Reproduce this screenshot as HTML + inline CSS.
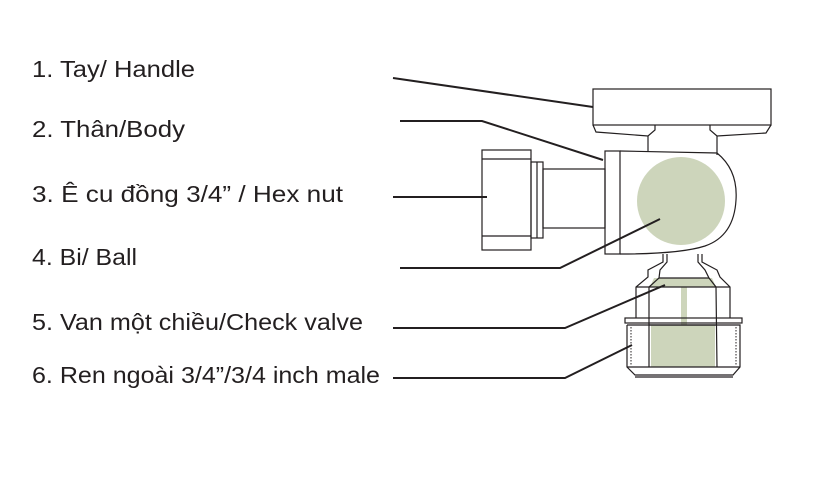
<!DOCTYPE html>
<html><head><meta charset="utf-8"><style>
html,body{margin:0;padding:0;background:#fff;}
svg{display:block;}
text{font-family:"Liberation Sans","Noto Sans CJK JP",sans-serif;font-size:23px;fill:#231f20;}
</style></head><body>
<svg width="839" height="503" viewBox="0 0 839 503" xmlns="http://www.w3.org/2000/svg">
<g>
<text x="32" y="77" textLength="163" lengthAdjust="spacingAndGlyphs">1. Tay/ Handle</text>
<text x="32" y="137" textLength="153" lengthAdjust="spacingAndGlyphs">2. Thân/Body</text>
<text x="32" y="202" textLength="311" lengthAdjust="spacingAndGlyphs">3. Ê cu đồng 3/4” / Hex nut</text>
<text x="32" y="265" textLength="105" lengthAdjust="spacingAndGlyphs">4. Bi/ Ball</text>
<text x="32" y="330" textLength="331" lengthAdjust="spacingAndGlyphs">5. Van một chiều/Check valve</text>
<text x="32" y="383" textLength="348" lengthAdjust="spacingAndGlyphs">6. Ren ngoài 3/4”/3/4 inch male</text>
</g>
<!-- green fills -->
<g fill="#cdd5bb">
<circle cx="681" cy="201" r="44"/>
<rect x="651" y="325" width="64" height="42"/>
<rect x="681" y="283" width="6" height="42"/>
<polygon points="654,278 712,278 716,287 650,287"/>
</g>
<g fill="none" stroke="#231f20" stroke-width="1.2">
<!-- handle -->
<rect x="593" y="89" width="178" height="36"/>
<polyline points="593,125 596,132 648,136 655,130 655,125"/>
<polyline points="771,125 766,133 717,136 710,130 710,125"/>
<line x1="648" y1="136" x2="648" y2="151"/>
<line x1="717" y1="136" x2="717" y2="155"/>
<!-- body -->
<rect x="605" y="151" width="15" height="103"/>
<path d="M620,151 L717,153 Q738,170 736,200 Q734,236 705,246 Q680,254 620,254"/>
<!-- pipe -->
<rect x="543" y="169" width="62" height="59"/>
<rect x="531" y="162" width="12" height="76"/>
<line x1="537" y1="162" x2="537" y2="238"/>
<rect x="482" y="150" width="49" height="100"/>
<line x1="482" y1="159" x2="531" y2="159"/>
<line x1="482" y1="236" x2="531" y2="236"/>
<!-- lower neck -->
<polyline points="663,254 663,262 648,270 648,277 636,287 636,318"/>
<polyline points="702,254 702,262 717,270 720,277 730,287 730,318"/>
<polyline points="667,254 667,262 660,270 659,278 649,287 649,367"/>
<polyline points="698,254 698,262 705,270 709,278 716,287 717,367"/>
<line x1="659" y1="278" x2="709" y2="278"/>
<line x1="636" y1="287" x2="730" y2="287"/>
<rect x="625" y="318" width="117" height="5"/>
<polyline points="627,325 627,367 635,375 733,375 740,367 740,325 627,325"/>
<line x1="627" y1="367" x2="740" y2="367"/>
<line x1="635" y1="377" x2="733" y2="377"/>
<line x1="649" y1="325" x2="717" y2="325"/>
</g>
<g stroke="#231f20" stroke-width="1" stroke-dasharray="1.5,1.5">
<line x1="631" y1="327" x2="631" y2="365"/>
<line x1="736" y1="327" x2="736" y2="365"/>
</g>
<!-- leader lines -->
<g fill="none" stroke="#231f20" stroke-width="2">
<line x1="393" y1="78" x2="593" y2="107"/>
<polyline points="400,121 482,121 603,160"/>
<line x1="393" y1="197" x2="487" y2="197"/>
<polyline points="400,268 560,268 660,219"/>
<polyline points="393,328 565,328 665,285"/>
<polyline points="393,378 565,378 632,345"/>
</g>
</svg>
</body></html>
